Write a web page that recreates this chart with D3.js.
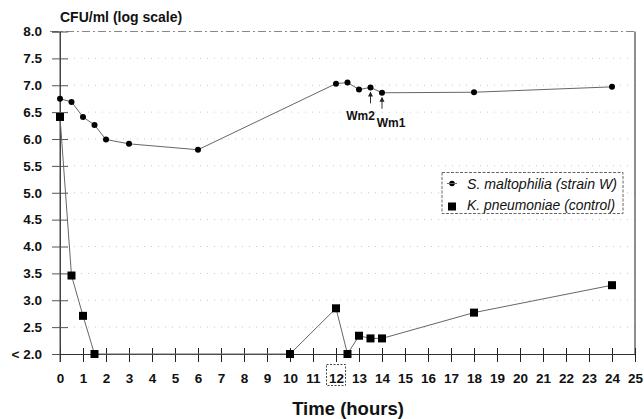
<!DOCTYPE html>
<html><head><meta charset="utf-8">
<script src="https://cdn.jsdelivr.net/npm/d3@7"></script>
<style>body{margin:0;background:#fff}svg{display:block}text{font-family:Arial,"Liberation Sans",sans-serif}</style>
</head><body>
<svg id="c" width="644" height="419"></svg>
<script>
const xTicks = d3.range(0, 26);
const yTicks = [2, 2.5, 3, 3.5, 4, 4.5, 5, 5.5, 6, 6.5, 7, 7.5, 8];
const yTickLabels = ["< 2.0","2.5","3.0","3.5","4.0","4.5","5.0","5.5","6.0","6.5","7.0","7.5","8.0"];

const smTime = [0, 0.5, 1, 1.5, 2, 3, 6, 12, 12.5, 13, 13.5, 14, 18, 24];
const smCFU  = [6.75, 6.69, 6.41, 6.26, 5.99, 5.91, 5.80, 7.03, 7.05, 6.92, 6.96, 6.86, 6.87, 6.97];
const kpTime = [0, 0.5, 1, 1.5, 10, 12, 12.5, 13, 13.5, 14, 18, 24];
const kpCFU  = [6.41, 3.46, 2.71, 2.0, 2.0, 2.85, 2.0, 2.34, 2.29, 2.29, 2.77, 3.28];

const annotations = [{t:13.5, v:6.96, label:"Wm2"}, {t:14, v:6.86, label:"Wm1"}];
const seriesNames = ["S. maltophilia (strain W)", "K. pneumoniae (control)"];

const svg = d3.select("#c");
const x = d3.scaleLinear().domain([0, 25]).range([60, 635]);
const y = d3.scaleLinear().domain([2, 8]).range([354, 31.5]);

// gridlines
svg.append("g").selectAll("line").data(yTicks.filter(d => d > 2 && d < 8)).join("line")
  .attr("x1", 60).attr("x2", 635).attr("y1", d => y(d)).attr("y2", d => y(d))
  .attr("stroke", "#c8c8c8").attr("stroke-width", 1).attr("stroke-dasharray", "1,6");
// top line
svg.append("line").attr("x1", 50).attr("x2", 635).attr("y1", y(8)).attr("y2", y(8))
  .attr("stroke", "#888").attr("stroke-dasharray", "8,3,2,3");
// right border
svg.append("line").attr("x1", 635).attr("x2", 635).attr("y1", y(8)).attr("y2", y(2))
  .attr("stroke", "#444").attr("stroke-width", 1.2);

// y axis
const yAxis = d3.axisLeft(y).tickValues(yTicks).tickSize(8).tickFormat((d,i) => yTickLabels[i]);
const gy = svg.append("g").attr("transform", "translate(60,0)").call(yAxis);
gy.select(".domain").attr("stroke", "#444");
gy.selectAll(".tick line").attr("x2", 8).attr("x1", -8).attr("stroke", "#555");
gy.selectAll(".tick text").attr("x", -18).attr("font-size", 13.5).attr("font-weight", "bold").attr("fill", "#111");

// x axis
const xAxis = d3.axisBottom(x).tickValues(xTicks).tickSize(8).tickFormat(d3.format("d"));
const gx = svg.append("g").attr("transform", `translate(0,${y(2)})`).call(xAxis);
gx.select(".domain").attr("stroke", "#333");
gx.selectAll(".tick line").attr("y1", -6).attr("y2", 8).attr("stroke", "#222");
gx.selectAll(".tick text").attr("y", 19).attr("font-size", 13.5).attr("font-weight", "bold").attr("fill", "#111");
// box around 12
svg.append("rect").attr("x", x(12) - 9.5).attr("y", 364.5).attr("width", 19).attr("height", 21)
  .attr("fill", "none").attr("stroke", "#444").attr("stroke-dasharray", "2,1.5");
// left axis full height
svg.append("line").attr("x1", 60).attr("x2", 60).attr("y1", y(8)).attr("y2", y(2) + 8).attr("stroke", "#444");

// titles
svg.append("text").attr("x", 60).attr("y", 22).attr("font-size", 14).attr("font-weight", "bold")
  .attr("fill", "#111").text("CFU/ml (log scale)");
svg.append("text").attr("x", 348).attr("y", 415).attr("font-size", 18.5).attr("font-weight", "bold")
  .attr("text-anchor", "middle").attr("fill", "#111").text("Time (hours)");

const line = d3.line().x(d => x(d[0])).y(d => y(d[1]));
const sm = smTime.map((t,i) => [t, smCFU[i]]);
const kp = kpTime.map((t,i) => [t, kpCFU[i]]);

svg.append("path").datum(sm).attr("d", line).attr("fill", "none").attr("stroke", "#666").attr("stroke-width", 1);
svg.append("path").datum(kp).attr("d", line).attr("fill", "none").attr("stroke", "#666").attr("stroke-width", 1);

svg.append("g").selectAll("circle").data(sm).join("circle")
  .attr("cx", d => x(d[0])).attr("cy", d => y(d[1])).attr("r", 3).attr("fill", "#000");
svg.append("g").selectAll("rect").data(kp).join("rect")
  .attr("x", d => x(d[0]) - 4).attr("y", d => y(d[1]) - 4).attr("width", 8).attr("height", 8).attr("fill", "#000");

// annotations
annotations.forEach((a, i) => {
  const ax = x(a.t), ay = y(a.v);
  svg.append("line").attr("x1", ax).attr("x2", ax).attr("y1", ay + 16).attr("y2", ay + 5)
    .attr("stroke", "#333").attr("stroke-width", 1);
  svg.append("path").attr("d", `M${ax-2.5},${ay+9} L${ax},${ay+4} L${ax+2.5},${ay+9} Z`).attr("fill", "#222");
  svg.append("text").attr("x", i === 0 ? ax - 10 : ax + 9).attr("y", i === 0 ? ay + 33 : ay + 34)
    .attr("text-anchor", "middle").attr("font-size", 12).attr("font-weight", "bold").attr("fill", "#111").text(a.label);
});

// legend
const lg = svg.append("g");
lg.append("rect").attr("x", 442).attr("y", 172.5).attr("width", 181).attr("height", 41)
  .attr("fill", "#fff").attr("stroke", "#666").attr("stroke-dasharray", "3,1.5");
lg.append("circle").attr("cx", 452).attr("cy", 183.5).attr("r", 2.8).attr("fill", "#000");
lg.append("line").attr("x1", 447).attr("x2", 457).attr("y1", 183.5).attr("y2", 183.5).attr("stroke", "#666");
lg.append("rect").attr("x", 448).attr("y", 202.5).attr("width", 8).attr("height", 8).attr("fill", "#000");
seriesNames.forEach((n, i) => {
  lg.append("text").attr("x", 467).attr("y", 188.5 + i * 21).attr("font-size", 13.8).attr("font-style", "italic")
    .attr("fill", "#111").attr("textLength", i === 0 ? 150 : 148).attr("lengthAdjust", "spacingAndGlyphs").text(n);
});
</script>
</body></html>
